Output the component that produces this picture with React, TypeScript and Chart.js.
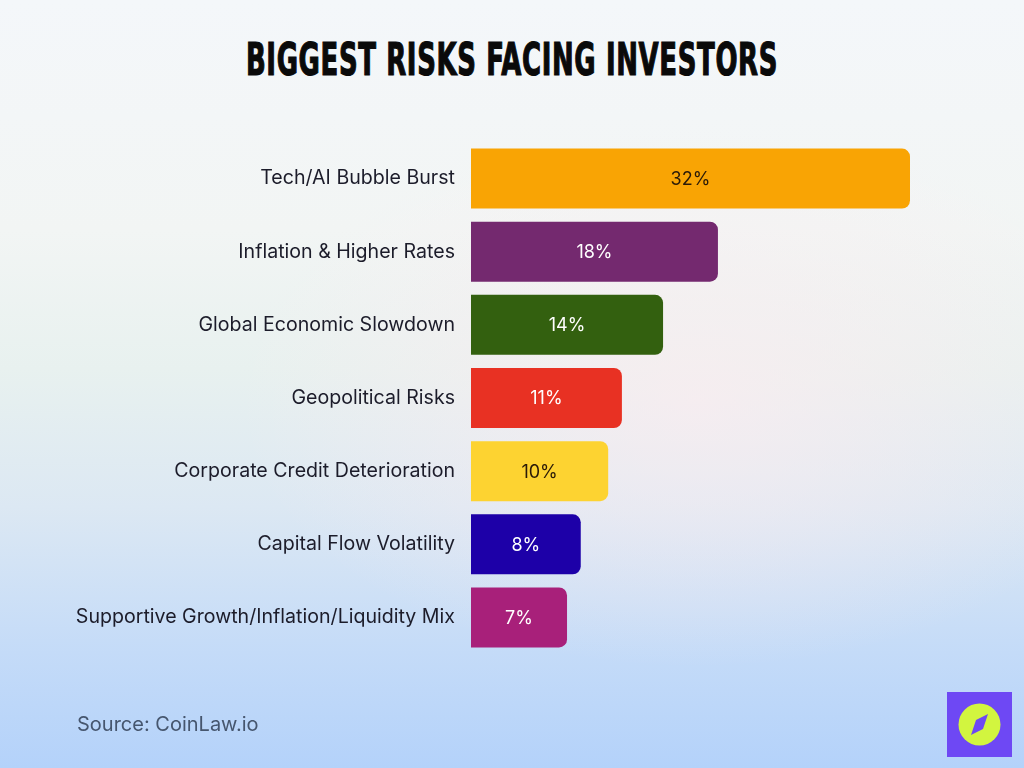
import React, { useEffect, useRef } from "react";
import { Chart, registerables } from "chart.js";

Chart.register(...registerables);

const titleText = "Biggest Risks Facing Investors";
const sourceText = "Source: CoinLaw.io";

const categories = [
  "Tech/AI Bubble Burst",
  "Inflation & Higher Rates",
  "Global Economic Slowdown",
  "Geopolitical Risks",
  "Corporate Credit Deterioration",
  "Capital Flow Volatility",
  "Supportive Growth/Inflation/Liquidity Mix",
];

const values = [32, 18, 14, 11, 10, 8, 7];

const barColors = ["#F9A404", "#74296F", "#33600F", "#E83123", "#FDD331", "#1D00A8", "#A8207A"];
const valueLabelColors = ["#2A1A08", "#FFFFFF", "#FFFFFF", "#FFFFFF", "#2A1A08", "#FFFFFF", "#FFFFFF"];

const valueLabelPlugin = {
  id: "valueLabels",
  afterDatasetsDraw(chart: any) {
    const ctx = chart.ctx;
    const meta = chart.getDatasetMeta(0);
    ctx.save();
    ctx.font = '18px Inter, "Noto Sans", sans-serif';
    ctx.textAlign = "center";
    ctx.textBaseline = "middle";
    meta.data.forEach((bar: any, i: number) => {
      const p = bar.getProps(["x", "y", "base"], true);
      ctx.fillStyle = valueLabelColors[i];
      ctx.fillText(values[i] + "%", (p.x + p.base) / 2, p.y + 1);
    });
    ctx.restore();
  },
};

export default function App() {
  const canvasRef = useRef<HTMLCanvasElement | null>(null);

  useEffect(() => {
    if (!canvasRef.current) return;
    const chart = new Chart(canvasRef.current, {
      type: "bar",
      data: {
        labels: categories,
        datasets: [
          {
            data: values,
            backgroundColor: barColors,
            borderWidth: 0,
            borderRadius: 8,
            borderSkipped: "start",
            barPercentage: 0.82,
            categoryPercentage: 1,
          },
        ],
      },
      options: {
        indexAxis: "y",
        responsive: false,
        animation: false,
        layout: { padding: { left: 0, right: 114, top: 142, bottom: 114 } },
        plugins: {
          legend: { display: false },
          tooltip: { enabled: false },
          title: { display: false },
        },
        scales: {
          x: { min: 0, max: 32, display: false },
          y: {
            grid: { display: false, drawTicks: false },
            border: { display: false },
            ticks: {
              color: "#1C1C2A",
              padding: 16,
              font: { family: 'Inter, "Noto Sans", sans-serif', size: 19.6 },
            },
            afterFit: (s: any) => {
              s.width = 471;
            },
          },
        },
      },
      plugins: [valueLabelPlugin],
    });
    return () => chart.destroy();
  }, []);

  return (
    <div
      style={{
        position: "fixed",
        left: 0,
        top: 0,
        width: 1024,
        height: 768,
        overflow: "hidden",
        background:
          "radial-gradient(ellipse 45% 35% at 68% 52%, rgba(252,236,240,0.7), rgba(252,236,240,0) 100%), linear-gradient(180deg, #F4F7FA 0%, #F2F5F4 30%, #E8F1EF 48%, #DCE8F3 66%, #C4DBF8 85%, #B4D2FA 100%)",
      }}
    >
      <div
        style={{
          position: "absolute",
          left: 0,
          top: 34,
          width: 1024,
          textAlign: "center",
          fontFamily: '"DejaVu Sans Condensed", "DejaVu Sans", sans-serif',
          fontWeight: 700,
          fontSize: 44,
          lineHeight: "52px",
          color: "#0A0A0A",
          textTransform: "uppercase",
          letterSpacing: 1,
          WebkitTextStroke: "1.2px #0A0A0A",
          transform: "scaleX(0.655)",
          transformOrigin: "512px 0",
          whiteSpace: "nowrap",
        }}
      >
        {titleText}
      </div>
      <canvas ref={canvasRef} width={1024} height={768} style={{ position: "absolute", left: 0, top: 0 }} />
      <div
        style={{
          position: "absolute",
          left: 77,
          top: 711,
          fontFamily: 'Inter, "Noto Sans", sans-serif',
          fontSize: 20,
          lineHeight: "26px",
          color: "#46566E",
        }}
      >
        {sourceText}
      </div>
      <div style={{ position: "absolute", left: 947, top: 692, width: 65, height: 65, background: "#6E48F4" }}>
        <svg width={65} height={65} viewBox="0 0 65 65">
          <circle cx={32.5} cy={32.5} r={21} fill="#D2F53F" />
          <polygon points="41,22 36,37 24,43 29,28" fill="#6E48F4" />
        </svg>
      </div>
    </div>
  );
}
